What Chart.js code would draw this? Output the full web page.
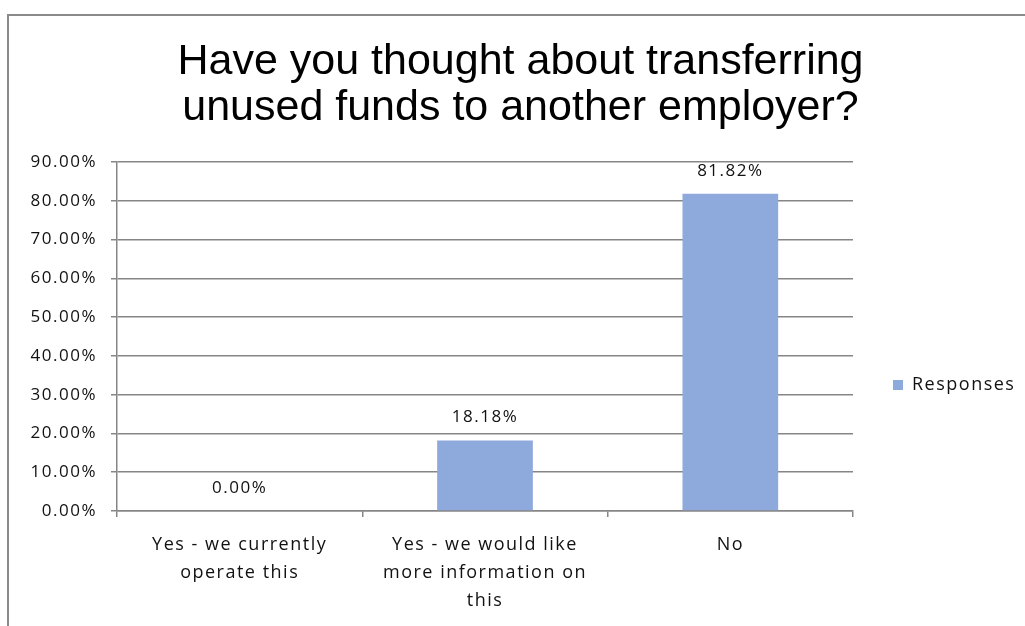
<!DOCTYPE html>
<html>
<head>
<meta charset="utf-8">
<title>Transferring unused funds</title>
<script src="https://cdn.jsdelivr.net/npm/chart.js@4.4.1/dist/chart.umd.min.js"></script>
<style>
  html, body { margin: 0; padding: 0; background: #fff; }
  canvas { display: block; }
</style>
</head>
<body>
<canvas id="myChart" width="1025" height="626"></canvas>
<script>
// survey answers and share of responses (%)
const categories = [
  ["Yes - we currently", "operate this"],
  ["Yes - we would like", "more information on", "this"],
  "No"
];
const responses = [0, 18.18, 81.82];
const seriesName = "Responses";
const titleLines = ["Have you thought about transferring", "unused funds to another employer?"];
const yMax = 90;
const yStep = 10;

const gridColor = "#868686";
const barColor = "#8EA9DB";
const textColor = "#111";
const fontFamily = "'Open Sans', sans-serif";
const smallFont = { family: fontFamily, size: 17 };

// gray frame round the whole chart
const framePlugin = {
  id: "frame",
  beforeUpdate(chart) {
    chart.ctx.letterSpacing = "1.5px";
  },
  beforeDraw(chart) {
    const ctx = chart.ctx;
    ctx.letterSpacing = "1.5px";
    ctx.save();
    ctx.fillStyle = "#fff";
    ctx.fillRect(0, 0, chart.width, chart.height);
    ctx.strokeStyle = "#8a8a8a";
    ctx.lineWidth = 2;
    ctx.strokeRect(8, 15, chart.width + 50, chart.height + 50);
    ctx.restore();
  },
  beforeLayout(chart) {
    // fixed width for the legend column, title drawn without extra spacing
    const lg = chart.legend;
    if (lg && !lg._patched) {
      const fit = lg.fit;
      lg.fit = function () {
        fit.apply(this, arguments);
        this.width = 172;
      };
      lg._patched = true;
    }
    const tb = chart.titleBlock;
    if (tb && !tb._patched) {
      const draw = tb.draw;
      tb.draw = function () {
        const c = this.ctx;
        c.save();
        c.letterSpacing = "0px";
        c.translate(8, 2);
        draw.apply(this, arguments);
        c.restore();
      };
      tb._patched = true;
    }
  },
  afterLayout(chart) {
    const lg = chart.legend;
    if (lg) {
      lg.top = 300;
      lg.bottom = 470;
    }
  }
};

// percentage written above each bar
const valueLabels = {
  id: "valueLabels",
  afterDatasetsDraw(chart) {
    const ctx = chart.ctx;
    const meta = chart.getDatasetMeta(0);
    ctx.save();
    ctx.font = `${smallFont.size}px ${smallFont.family}`;
    ctx.fillStyle = textColor;
    ctx.textAlign = "center";
    ctx.textBaseline = "middle";
    meta.data.forEach((bar, i) => {
      ctx.fillText(responses[i].toFixed(2) + "%", bar.x, bar.y - 23);
    });
    ctx.restore();
  }
};

const ctx = document.getElementById("myChart").getContext("2d");

new Chart(ctx, {
  type: "bar",
  data: {
    labels: categories,
    datasets: [{
      label: seriesName,
      data: responses,
      backgroundColor: barColor,
      borderWidth: 0,
      categoryPercentage: 1,
      barPercentage: 0.39
    }]
  },
  options: {
    responsive: false,
    devicePixelRatio: 1,
    animation: false,
    layout: { padding: 0 },
    plugins: {
      title: {
        display: true,
        text: titleLines,
        color: "#000",
        font: { family: "'Liberation Sans', Arial, sans-serif", size: 43, weight: "normal", lineHeight: 46 / 43 },
        padding: { top: 37, bottom: 33 }
      },
      legend: {
        display: true,
        position: "right",
        fullSize: false,
        labels: {
          color: textColor,
          font: { family: fontFamily, size: 18 },
          boxWidth: 10,
          boxHeight: 10,
          padding: 40
        }
      },
      tooltip: { enabled: false }
    },
    scales: {
      y: {
        min: 0,
        max: yMax,
        afterFit(scale) { scale.width = 117; },
        ticks: {
          stepSize: yStep,
          padding: 14,
          color: textColor,
          font: smallFont,
          callback: v => v.toFixed(2) + "%"
        },
        grid: { color: gridColor, lineWidth: 1.5, tickLength: 6 },
        border: { color: gridColor, width: 1.5 }
      },
      x: {
        afterFit(scale) { scale.height = 115; },
        ticks: {
          color: textColor,
          font: { family: fontFamily, size: 18, lineHeight: 28 / 18 },
          padding: 14,
          maxRotation: 0
        },
        grid: { color: gridColor, lineWidth: 1.5, tickLength: 6, drawOnChartArea: false, offset: true },
        border: { color: gridColor, width: 1.5 }
      }
    }
  },
  plugins: [framePlugin, valueLabels]
});
</script>
</body>
</html>
